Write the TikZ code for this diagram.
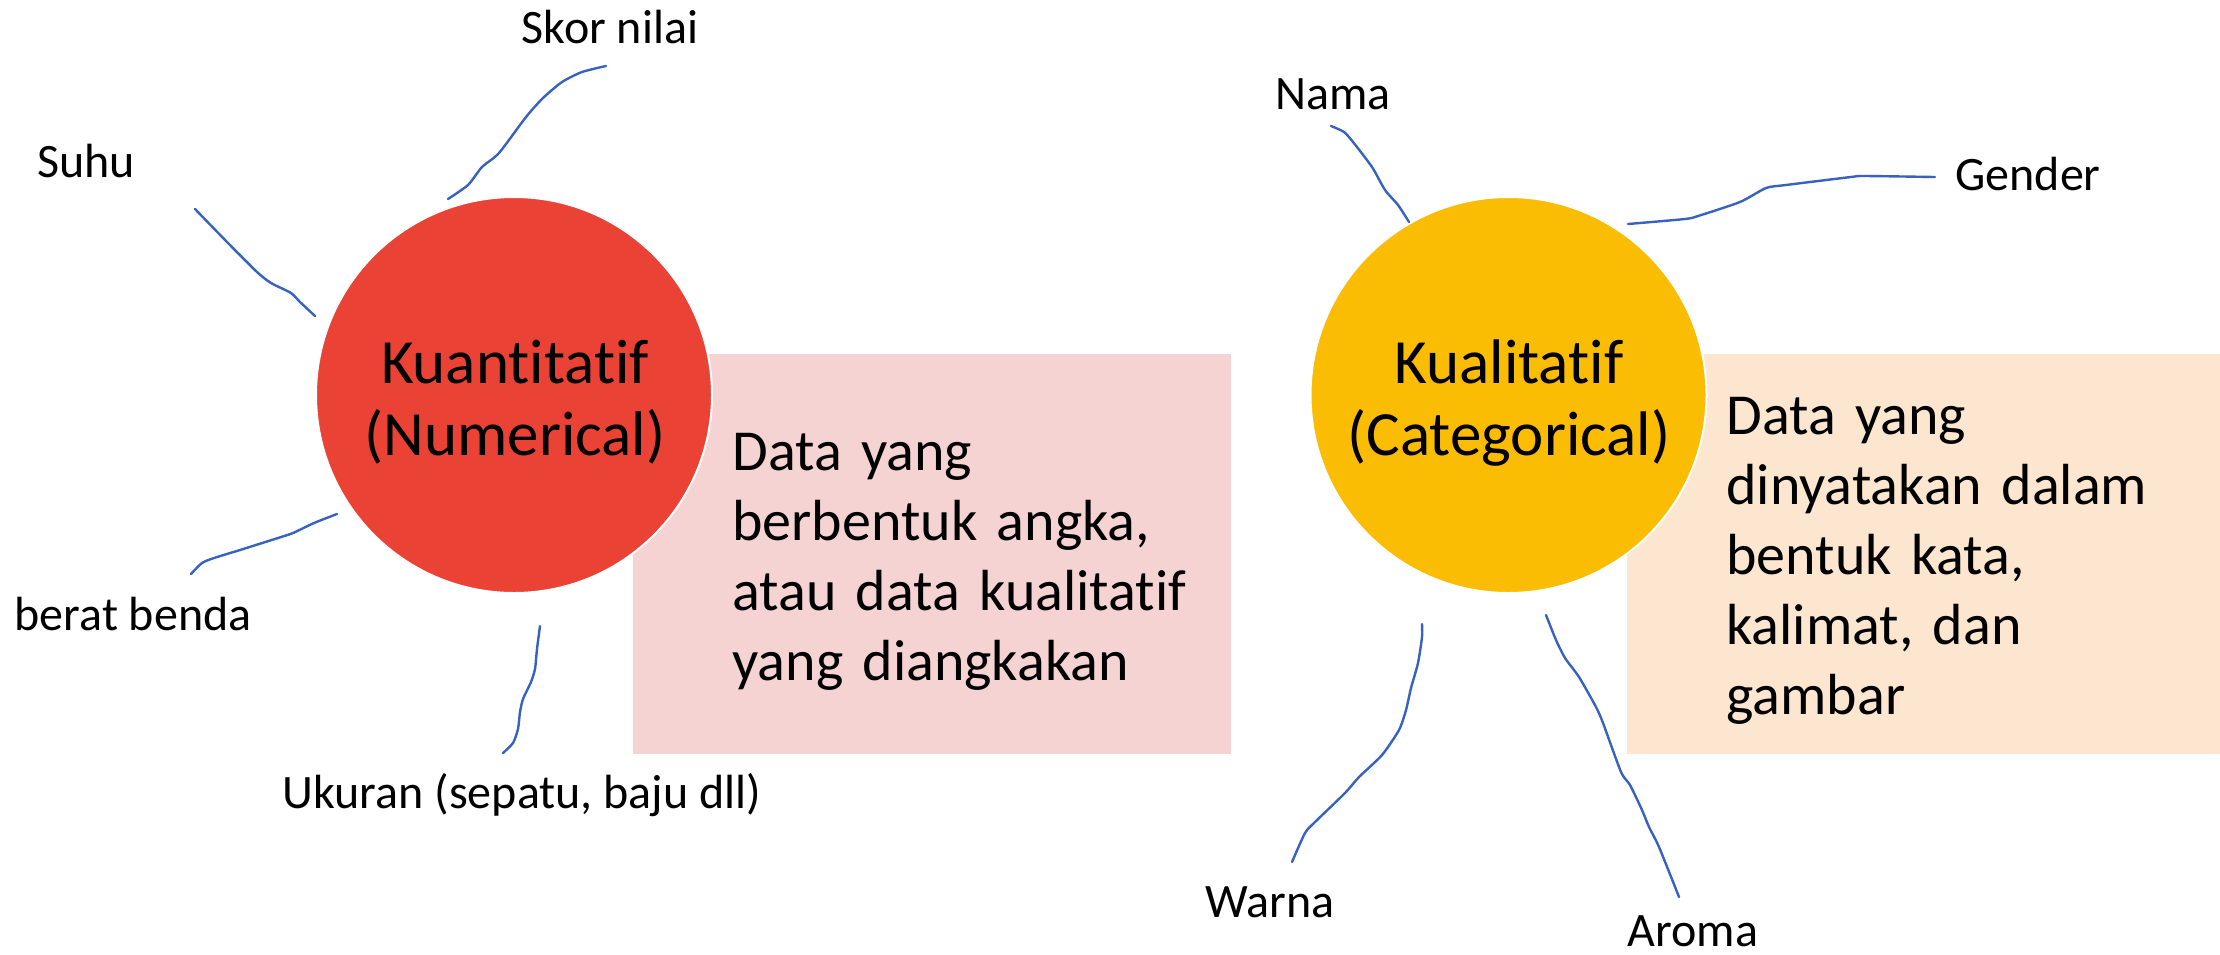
\documentclass[tikz,border=0pt]{standalone}
\usepackage{fontspec}
\setmainfont{Carlito}[Ligatures={NoCommon,NoRequired,NoContextual}]
\definecolor{qred}{HTML}{EA4335}
\definecolor{qyel}{HTML}{FBBC04}
\definecolor{qpink}{HTML}{F5D3D2}
\definecolor{qpeach}{HTML}{FCE6CF}
\definecolor{wirec}{HTML}{3762C0}
\tikzset{
  lbl/.style={font=\fontsize{24}{28.8}\selectfont, anchor=base, inner sep=0pt},
  boxtext/.style={font=\fontsize{29}{35}\selectfont, anchor=base west, inner sep=0pt, text width=260pt, align=left},
  ctext/.style={font=\fontsize{31.5}{36}\selectfont, anchor=base, inner sep=0pt, text width=190pt, align=center},
  bigc/.style={circle, draw=white, line width=1pt, minimum size=198pt, inner sep=0pt},
  panel/.style={rectangle, inner sep=0pt, minimum height=200pt},
  wireline/.style={draw=wirec, line width=1.2pt, line cap=round, line join=round}
}
\begin{document}
\begin{tikzpicture}[x=0.5pt,y=-0.5pt]
\useasboundingbox (0,0) rectangle (2220,954);
\fill[white] (0,0) rectangle (2220,954);

% panels
\node[panel, fill=qpink, minimum width=299pt] (pinkbox) at (932,554) {};
\node[panel, fill=qpeach, minimum width=296.5pt] (peachbox) at (1923.5,554) {};

% circles
\node[bigc, fill=qred] (quant) at (514,395) {};
\node[bigc, fill=qyel] (qual) at (1508.5,395) {};

\node[ctext] (quantT) at (515,383) {Kuantitatif\\(Numerical)};
\node[ctext] (qualT) at (1509,383) {Kualitatif\\(Categorical)};

% panel texts
\node[boxtext] (quantD) at (732,470) {Data yang\\berbentuk angka,\\atau data kualitatif\\yang diangkakan};
\node[boxtext] (qualD) at (1726,434) {Data yang\\dinyatakan dalam\\bentuk kata,\\kalimat, dan\\gambar};

% labels
\node[lbl] (skor) at (610,43) {Skor nilai};
\node[lbl] (suhu) at (86,177) {Suhu};
\node[lbl] (berat) at (133,630) {berat benda};
\node[lbl] (ukuran) at (522,808) {Ukuran (sepatu, baju dll)};
\node[lbl] (nama) at (1333,109) {Nama};
\node[lbl] (gender) at (2028,190) {Gender};
\node[lbl] (warna) at (1270,917) {Warna};
\node[lbl] (aroma) at (1693,946) {Aroma};

% connector ends
\coordinate (skorIn) at (448,199);   \coordinate (skorOut) at (606,66);
\coordinate (suhuOut) at (195,209);  \coordinate (suhuIn) at (315,316);
\coordinate (beratIn) at (337,514);  \coordinate (beratOut) at (191,574);
\coordinate (ukurIn) at (540,626);   \coordinate (ukurOut) at (503,753);
\coordinate (namaOut) at (1331,126); \coordinate (namaIn) at (1409,222);
\coordinate (gendIn) at (1628,224);  \coordinate (gendOut) at (1935,177);
\coordinate (warnIn) at (1422,624);  \coordinate (warnOut) at (1292,862);
\coordinate (aromIn) at (1546,615);  \coordinate (aromOut) at (1679,897);

% freehand connectors
\draw[wireline] plot[smooth, tension=0.4] coordinates {(skorIn) (468,185) (482,167) (499,153) (526,117) (543,98) (562,82) (582,72) (skorOut)};
\draw[wireline] plot[smooth, tension=0.4] coordinates {(suhuOut) (228,243) (257,272) (271,283) (291,293) (300,302) (suhuIn)};
\draw[wireline] plot[smooth, tension=0.4] coordinates {(beratIn) (314,523) (293,533) (278,538) (240,550) (214,558) (202,563) (beratOut)};
\draw[wireline] plot[smooth, tension=0.4] coordinates {(ukurIn) (537,649) (535,669) (531,682) (523,699) (520,712) (518,729) (513,743) (ukurOut)};
\draw[wireline] plot[smooth, tension=0.4] coordinates {(namaOut) (1344,132) (1353,142) (1372,167) (1385,190) (1398,205) (namaIn)};
\draw[wireline] plot[smooth, tension=0.4] coordinates {(gendIn) (1685,219) (1698,216) (1740,202) (1766,188) (1786,185) (1851,177) (1864,176) (gendOut)};
\draw[wireline] plot[smooth, tension=0.4] coordinates {(warnIn) (1422,637) (1418,663) (1411,688) (1406,710) (1399,730) (1382,755) (1359,777) (1345,793) (1315,822) (1305,833) (warnOut)};
\draw[wireline] plot[smooth, tension=0.4] coordinates {(aromIn) (1556,640) (1565,658) (1579,677) (1596,707) (1603,723) (1621,772) (1630,785) (1642,810) (1649,827) (1659,847) (aromOut)};
\end{tikzpicture}
\end{document}
